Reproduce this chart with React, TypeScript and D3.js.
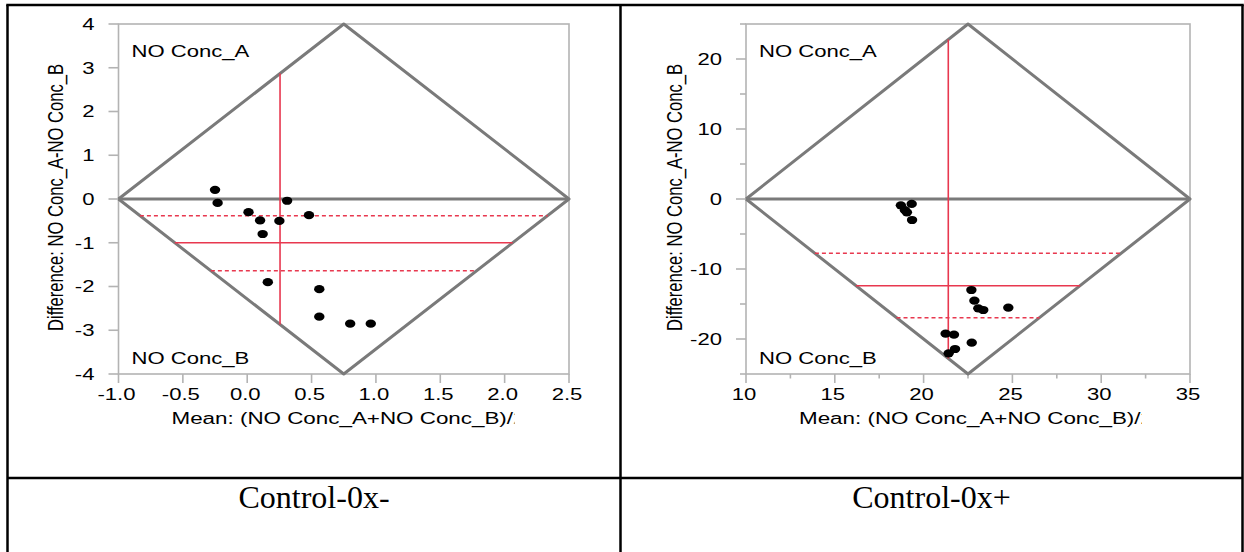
import React from "react";
import * as d3 from "d3";

// Control-0x- : mean vs difference
const leftMeans = [-0.25, -0.23, 0.01, 0.1, 0.25, 0.31, 0.48, 0.12, 0.16, 0.56, 0.56, 0.8, 0.96];
const leftDiffs = [0.21, -0.09, -0.3, -0.49, -0.5, -0.04, -0.37, -0.8, -1.9, -2.06, -2.69, -2.85, -2.85];
const leftXTicks = [-1.0, -0.5, 0.0, 0.5, 1.0, 1.5, 2.0, 2.5];
const leftYTicks = [-4, -3, -2, -1, 0, 1, 2, 3, 4];
const leftAvgMean = 0.255;
const leftAvgDiff = -1.0;
const leftLimits = [-1.64, -0.38];

// Control-0x+
const rightMeans = [18.72, 19.33, 18.95, 19.06, 19.35, 22.69, 22.86, 23.08, 23.36, 24.77, 21.24, 21.71, 22.71, 21.77, 21.41];
const rightDiffs = [-0.9, -0.7, -1.6, -1.9, -3.0, -13.0, -14.52, -15.62, -15.86, -15.52, -19.24, -19.38, -20.52, -21.43, -22.05];
const rightXTicks = [10, 15, 20, 25, 30, 35];
const rightXMinor = [12.5, 17.5, 22.5, 27.5, 32.5];
const rightYTicks = [-20, -10, 0, 10, 20];
const rightYMinor = [-25, -15, -5, 5, 15, 25];
const rightAvgMean = 21.39;
const rightAvgDiff = -12.38;
const rightLimits = [-16.95, -7.76];

const captions = ["Control-0x-", "Control-0x+"];

const FONT = "'Liberation Sans', Arial, Helvetica, sans-serif";
const RED = "#e8384f";
const DIAMOND = "#7a7a7a";
const FRAME = "#b3b3b3";
const SX = 1.38;

type PanelProps = {
  id: string;
  x0: number;
  x1: number;
  xDomain: [number, number];
  yDomain: [number, number];
  means: number[];
  diffs: number[];
  xTicks: number[];
  xMinor: number[];
  yTicks: number[];
  yMinor: number[];
  xFmt: (v: number) => string;
  avgMean: number;
  avgDiff: number;
  limits: number[];
  yTitleX: number;
};

const Label = ({ x, y, anchor = "start", size = 16, sx = SX, dy = 0, children }: any) => (
  <text
    transform={`translate(${x},${y}) scale(${sx},1)`}
    textAnchor={anchor}
    fontSize={size}
    fontFamily={FONT}
    dy={dy}
    fill="#000"
  >
    {children}
  </text>
);

const Panel = (p: PanelProps) => {
  const y0 = 24;
  const y1 = 374;
  const x = d3.scaleLinear().domain(p.xDomain).range([p.x0, p.x1]);
  const y = d3.scaleLinear().domain(p.yDomain).range([y1, y0]);
  const [xmin, xmax] = p.xDomain;
  const [ymin, ymax] = p.yDomain;
  const xmid = (xmin + xmax) / 2;
  const half = (xmax - xmin) / 2;

  // diamond (rotated A/B frame)
  const diamond = d3.line<[number, number]>()
    .x((d) => x(d[0]))
    .y((d) => y(d[1]))([
    [xmin, 0],
    [xmid, ymax],
    [xmax, 0],
    [xmid, ymin],
    [xmin, 0],
  ]);

  // red lines are clipped to the diamond
  const halfWidthAt = (v: number) => half * (1 - Math.abs(v) / ymax);
  const vExtent = ymax * (1 - Math.abs(p.avgMean - xmid) / half);

  const hLine = (v: number, dashed: boolean, key: string) => (
    <line
      key={key}
      x1={x(xmid - halfWidthAt(v))}
      x2={x(xmid + halfWidthAt(v))}
      y1={y(v)}
      y2={y(v)}
      stroke={RED}
      strokeWidth={1.5}
      strokeDasharray={dashed ? "4,3" : undefined}
    />
  );

  const titleX = p.x0 + 53;

  return (
    <g>
      <defs>
        <clipPath id={`clip-${p.id}`}>
          <rect x={titleX - 5} y={400} width={348} height={40} />
        </clipPath>
      </defs>

      {/* frame */}
      <rect x={p.x0} y={y0} width={p.x1 - p.x0} height={y1 - y0} fill="none" stroke={FRAME} strokeWidth={1.6} />

      {/* y ticks */}
      {p.yTicks.map((t) => (
        <g key={`yt${t}`}>
          <line x1={p.x0 - 10} x2={p.x0} y1={y(t)} y2={y(t)} stroke={FRAME} strokeWidth={1.6} />
          <Label x={p.x0 - 24} y={y(t)} anchor="end" dy="0.36em">
            {String(t)}
          </Label>
        </g>
      ))}
      {p.yMinor.map((t) => (
        <line key={`ym${t}`} x1={p.x0 - 6} x2={p.x0} y1={y(t)} y2={y(t)} stroke={FRAME} strokeWidth={1.6} />
      ))}

      {/* x ticks */}
      {p.xTicks.map((t) => (
        <g key={`xt${t}`}>
          <line x1={x(t)} x2={x(t)} y1={y1} y2={y1 + 9} stroke={FRAME} strokeWidth={1.6} />
          <Label x={x(t) - 2} y={400} anchor="middle">
            {p.xFmt(t)}
          </Label>
        </g>
      ))}
      {p.xMinor.map((t) => (
        <line key={`xm${t}`} x1={x(t)} x2={x(t)} y1={y1} y2={y1 + 4.5} stroke={FRAME} strokeWidth={1.6} />
      ))}

      {/* diamond and zero line */}
      <path d={diamond ?? ""} fill="none" stroke={DIAMOND} strokeWidth={3} strokeLinejoin="round" />
      <line x1={x(xmin)} x2={x(xmax)} y1={y(0)} y2={y(0)} stroke={DIAMOND} strokeWidth={3} />

      {/* mean / limits */}
      <line
        x1={x(p.avgMean)}
        x2={x(p.avgMean)}
        y1={y(vExtent)}
        y2={y(-vExtent)}
        stroke={RED}
        strokeWidth={1.6}
      />
      {hLine(p.avgDiff, false, "avg")}
      {p.limits.map((v, i) => hLine(v, true, `lim${i}`))}

      {/* points */}
      {p.means.map((m, i) => (
        <ellipse key={`pt${i}`} cx={x(m)} cy={y(p.diffs[i])} rx={5.2} ry={4.1} fill="#000" />
      ))}

      {/* corner labels */}
      <Label x={p.x0 + 13} y={57}>NO Conc_A</Label>
      <Label x={p.x0 + 13} y={364}>NO Conc_B</Label>

      {/* axis titles */}
      <g clipPath={`url(#clip-${p.id})`}>
        <Label x={titleX} y={424} size={16} sx={1.4}>
          Mean: (NO Conc_A+NO Conc_B)/2
        </Label>
      </g>
      <text
        transform={`translate(${p.yTitleX},197.5) scale(1.32,1) rotate(-90)`}
        textAnchor="middle"
        fontSize={16.6}
        fontFamily={FONT}
        fill="#000"
      >
        Difference: NO Conc_A-NO Conc_B
      </text>
    </g>
  );
};

export default function App() {
  const W = 1244;
  const H = 552;
  const L = 7.5;
  const M = 620.5;
  const R = 1242.5;
  const T = 5;
  const rowY = 478;
  return (
    <svg
      width={W}
      height={H}
      style={{ position: "absolute", left: 0, top: 0, display: "block", background: "#fff" }}
    >
      <rect x={0} y={0} width={W} height={H} fill="#fff" />

      <Panel
        id="left"
        x0={118.5}
        x1={569}
        xDomain={[-1, 2.5]}
        yDomain={[-4, 4]}
        means={leftMeans}
        diffs={leftDiffs}
        xTicks={leftXTicks}
        xMinor={[]}
        yTicks={leftYTicks}
        yMinor={[]}
        xFmt={(v) => d3.format(".1f")(v).replace("−", "-")}
        avgMean={leftAvgMean}
        avgDiff={leftAvgDiff}
        limits={leftLimits}
        yTitleX={63}
      />
      <Panel
        id="right"
        x0={746}
        x1={1190}
        xDomain={[10, 35]}
        yDomain={[-25, 25]}
        means={rightMeans}
        diffs={rightDiffs}
        xTicks={rightXTicks}
        xMinor={rightXMinor}
        yTicks={rightYTicks}
        yMinor={rightYMinor}
        xFmt={(v) => String(v)}
        avgMean={rightAvgMean}
        avgDiff={rightAvgDiff}
        limits={rightLimits}
        yTitleX={682}
      />

      {/* table borders */}
      <g stroke="#000" strokeWidth={2.5}>
        <line x1={L - 1.25} x2={R + 1.25} y1={T} y2={T} />
        <line x1={L} x2={L} y1={T} y2={H} />
        <line x1={M} x2={M} y1={T} y2={H} />
        <line x1={R} x2={R} y1={T} y2={H} />
        <line x1={L} x2={R} y1={rowY} y2={rowY} />
      </g>

      {captions.map((c, i) => (
        <text
          key={c}
          x={i === 0 ? (L + M) / 2 : (M + R) / 2}
          y={508}
          textAnchor="middle"
          fontSize={32}
          fontFamily="'Liberation Serif', 'Times New Roman', serif"
          fill="#000"
        >
          {c}
        </text>
      ))}
    </svg>
  );
}
